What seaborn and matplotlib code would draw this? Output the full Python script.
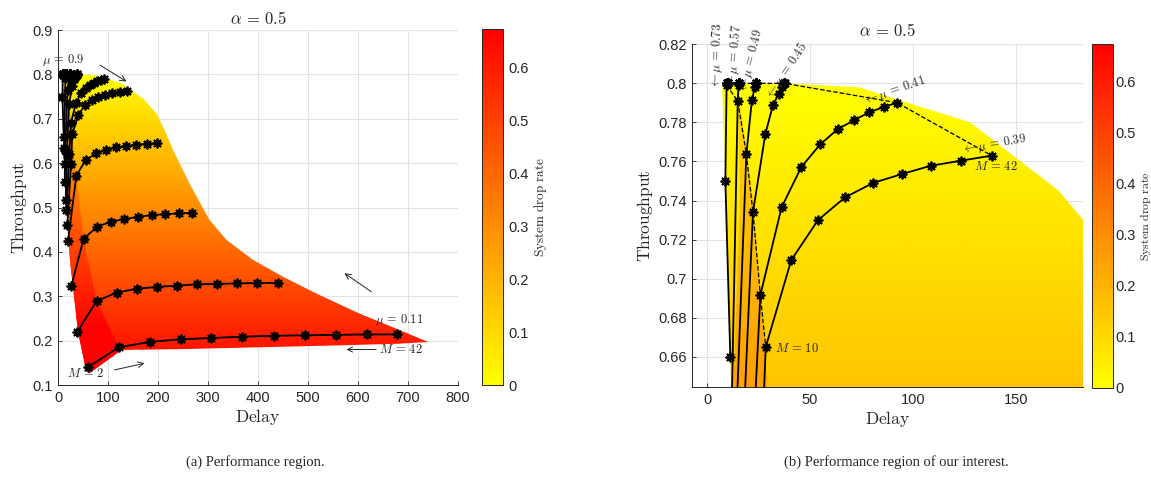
import matplotlib
matplotlib.use('Agg')
import matplotlib.pyplot as plt
import matplotlib.colors as mcolors
import matplotlib.cm as cm
from matplotlib.patches import Polygon
import numpy as np
import pandas as pd
import seaborn as sns

# curves of constant mu, points for M = 2, 6, 10, ...
curve_mu = [0.11, 0.23, 0.31, 0.35, 0.39, 0.41, 0.45, 0.49, 0.57, 0.73]
curve_delay = [
    [60, 121, 183, 245, 307, 369, 433, 495, 557, 619, 678],
    [38, 77, 117, 157, 198, 238, 278, 319, 359, 399, 440],
    [26.8, 51.3, 78.7, 106, 132.7, 160, 187, 214.7, 241.3, 268.7],
    [20, 36.7, 55.3, 76.7, 96.7, 116.7, 136.7, 156.7, 178, 198],
    [18.5, 26.0, 28.5, 40.9, 53.9, 67.0, 80.6, 94.8, 108.6, 123.3, 138.2],
    [16.7, 22.5, 25.9, 36.2, 45.8, 55.0, 63.4, 71.5, 78.8, 85.8, 92.2],
    [15.4, 17.5, 22.3, 28.3, 32.0, 34.8, 36.4, 37.1, 37.4, 37.6, 37.7],
    [13.4, 14.3, 19.1, 21.8, 23.2, 23.6, 23.8, 23.9, 24.0, 24.0, 24.0],
    [13.4, 12.0, 14.9, 15.3, 15.4, 15.5, 15.5, 15.6, 15.6, 15.6, 15.6],
    [11.3, 8.9, 9.5, 9.7, 9.8, 9.9, 10.0, 10.0, 10.1, 10.1, 10.1],
]
curve_thr = [
    [0.140, 0.185, 0.197, 0.203, 0.206, 0.209, 0.211, 0.212, 0.213, 0.214, 0.214],
    [0.219, 0.289, 0.308, 0.317, 0.321, 0.324, 0.327, 0.328, 0.329, 0.330, 0.330],
    [0.324, 0.430, 0.457, 0.468, 0.474, 0.479, 0.483, 0.485, 0.487, 0.488],
    [0.425, 0.572, 0.607, 0.622, 0.6295, 0.6355, 0.639, 0.6415, 0.644, 0.6445],
    [0.460, 0.598, 0.665, 0.7095, 0.730, 0.7416, 0.749, 0.7536, 0.7578, 0.7604, 0.763],
    [0.494, 0.620, 0.6916, 0.7365, 0.7572, 0.7688, 0.7765, 0.7812, 0.7852, 0.7879, 0.7901],
    [0.517, 0.620, 0.734, 0.774, 0.7888, 0.7946, 0.798, 0.7995, 0.800, 0.800, 0.800],
    [0.558, 0.630, 0.7638, 0.7915, 0.798, 0.800, 0.800, 0.800, 0.800, 0.800, 0.800],
    [0.598, 0.635, 0.791, 0.799, 0.800, 0.800, 0.800, 0.800, 0.800, 0.800, 0.800],
    [0.660, 0.750, 0.799, 0.800, 0.800, 0.800, 0.800, 0.800, 0.800, 0.800, 0.800],
]
zoom_mu = [0.73, 0.57, 0.49, 0.45, 0.41, 0.39]

# outline of the performance surface and of its folded strip
surf_delay = [7.3, 37.2, 73.6, 127.8, 170.7, 197, 215, 230, 263, 303, 337, 390, 450,
              517, 603, 683, 740, 680, 550, 400, 250, 127, 62, 53, 40, 25, 21, 17, 13,
              11.7, 10.5, 8.9]
surf_thr = [0.80, 0.80, 0.798, 0.780, 0.745, 0.712, 0.67, 0.63, 0.554, 0.472, 0.427,
            0.382, 0.344, 0.306, 0.261, 0.224, 0.197, 0.193, 0.189, 0.185, 0.181, 0.179,
            0.126, 0.15, 0.22, 0.37, 0.42, 0.50, 0.60, 0.6446, 0.696, 0.750]
fold_delay = [14.9, 22.5, 29.3, 36.7, 51, 77, 117, 127, 62, 53, 40, 25, 21, 17, 13, 12.9, 16]
fold_thr = [0.797, 0.74, 0.6446, 0.572, 0.43, 0.29, 0.195, 0.179, 0.126, 0.15, 0.22,
            0.37, 0.42, 0.50, 0.60, 0.6446, 0.74]
offered_load = 0.8      # drop rate = offered load - throughput
fold_extra = 0.1
drop_max = 0.673

rows = []
for mu, ds, ts in zip(curve_mu, curve_delay, curve_thr):
    for k, (d, t) in enumerate(zip(ds, ts)):
        rows.append({'mu': mu, 'M': 2 + 4 * k, 'delay': d, 'thr': t})
df = pd.DataFrame(rows)

sns.set_style('whitegrid')
plt.rcParams['font.family'] = ['Liberation Sans', 'DejaVu Sans']
plt.rcParams['mathtext.fontset'] = 'cm'
ink = '#262626'

cmap = plt.get_cmap('autumn_r')
norm = mcolors.Normalize(0, drop_max)


def paint(ax, xs, ys, shift, xlim, ylim):
    poly = Polygon(np.column_stack([xs, ys]), closed=True, transform=ax.transData,
                   facecolor='none', edgecolor='none')
    ax.add_patch(poly)
    yy = np.linspace(ylim[0], ylim[1], 400)
    field = np.tile((offered_load - yy + shift)[:, None], (1, 2))
    im = ax.imshow(field, extent=[xlim[0], xlim[1], ylim[0], ylim[1]], origin='lower',
                   aspect='auto', cmap=cmap, norm=norm, zorder=1, interpolation='bilinear')
    im.set_clip_path(poly)


def style(ax, xlim, ylim, xticks, yticks):
    ax.set_xlim(xlim)
    ax.set_ylim(ylim)
    ax.set_xticks(xticks)
    ax.set_yticks(yticks)
    ax.grid(True, color='#e3e3e3', lw=0.8)
    ax.set_axisbelow(True)
    for s in ['top', 'right']:
        ax.spines[s].set_visible(False)
    for s in ['left', 'bottom']:
        ax.spines[s].set_color(ink)
        ax.spines[s].set_linewidth(0.7)
    ax.tick_params(direction='in', length=3, width=0.6, colors=ink, labelsize=10.5,
                   bottom=True, left=True, pad=4)
    ax.set_xlabel(r'$\mathrm{Delay}$', fontsize=12.5, color=ink, labelpad=2)
    ax.set_ylabel(r'$\mathrm{Throughput}$', fontsize=12.5, color=ink, labelpad=2)


def colorbar(fig, rect, label_size, label_pad, tick_pad):
    cax = fig.add_axes(rect)
    cb = fig.colorbar(cm.ScalarMappable(norm=norm, cmap=cmap), cax=cax)
    cb.set_ticks([0, 0.1, 0.2, 0.3, 0.4, 0.5, 0.6])
    cb.set_ticklabels(['0', '0.1', '0.2', '0.3', '0.4', '0.5', '0.6'])
    cb.outline.set_edgecolor(ink)
    cb.outline.set_linewidth(0.7)
    cax.tick_params(direction='in', length=3, width=0.6, colors=ink, labelsize=10.5,
                    pad=tick_pad)
    cb.set_label(r'$\mathrm{System\ drop\ rate}$', fontsize=label_size, color=ink,
                 labelpad=label_pad)


star = dict(marker=(8, 2, 0), markersize=7, markeredgecolor='k', markeredgewidth=1.3,
            color='k', lw=1.3)
label_size = 9

fig = plt.figure(figsize=(11.51, 4.82), dpi=100)

# (a) whole region
ax1 = fig.add_axes([0.0504, 0.2012, 0.3475, 0.7365])
xl1, yl1 = (0, 800), (0.1, 0.9)
paint(ax1, surf_delay, surf_thr, 0, xl1, yl1)
paint(ax1, fold_delay, fold_thr, fold_extra, xl1, yl1)
sns.lineplot(data=df, x='delay', y='thr', units='mu', estimator=None, sort=False,
             legend=False, ax=ax1, zorder=3, **star)
style(ax1, xl1, yl1, range(0, 801, 100), np.arange(0.1, 0.91, 0.1))
ax1.set_yticklabels(['0.1', '0.2', '0.3', '0.4', '0.5', '0.6', '0.7', '0.8', '0.9'])
ax1.set_title(r'$\alpha \,=\, 0.5$', fontsize=12, color=ink, pad=4)
arrow = dict(arrowstyle='->', lw=0.7, color=ink, shrinkA=0, shrinkB=0)
ax1.text(11, 0.832, r'$\mu \,=\, 0.9$', fontsize=label_size, ha='center', va='center', color=ink)
ax1.annotate('', xy=(137, 0.784), xytext=(84, 0.821), arrowprops=arrow)
ax1.text(683, 0.247, r'$\mu \,=\, 0.11$', fontsize=label_size, ha='center', va='center', color=ink)
ax1.annotate('', xy=(573, 0.352), xytext=(627, 0.310), arrowprops=arrow)
ax1.annotate(r'$M \,=\, 42$', xy=(577, 0.180), xytext=(643, 0.180), fontsize=label_size,
             ha='left', va='center', color=ink, arrowprops=arrow)
ax1.text(55, 0.126, r'$M \,=\, 2$', fontsize=label_size, ha='center', va='center', color=ink)
ax1.annotate('', xy=(173, 0.149), xytext=(113, 0.134), arrowprops=arrow)
colorbar(fig, [0.4188, 0.2012, 0.01825, 0.7386], 9.5, 3, 3.5)

# (b) zoom on the region of interest
ax2 = fig.add_axes([0.6012, 0.1971, 0.3397, 0.711])
xl2, yl2 = (-7.3, 182.5), (0.6445, 0.82)
paint(ax2, surf_delay, surf_thr, 0, xl2, yl2)
paint(ax2, fold_delay, fold_thr, fold_extra, xl2, yl2)
sub = df[df['mu'].isin(zoom_mu)]
sns.lineplot(data=sub, x='delay', y='thr', units='mu', estimator=None, sort=False,
             legend=False, ax=ax2, zorder=3, **star)
# dashed links: the M = 42 ends and the M = 10 points, from high to low mu
ends = sub[sub['M'] == sub.groupby('mu')['M'].transform('max')]
ends = ends.sort_values('mu', ascending=False, kind='stable')
m10 = sub[sub['M'] == 10].sort_values('mu', ascending=False, kind='stable')
for part in [ends, m10]:
    sns.lineplot(data=part, x='delay', y='thr', estimator=None, sort=False, legend=False,
                 ax=ax2, color='k', lw=0.9, linestyle='--', zorder=2.5)
style(ax2, xl2, yl2, [0, 50, 100, 150], np.arange(0.66, 0.821, 0.02))
ax2.set_yticklabels(['0.66', '0.68', '0.7', '0.72', '0.74', '0.76', '0.78', '0.8', '0.82'])
ax2.set_title(r'$\alpha \,=\, 0.5$', fontsize=12, color=ink, pad=6)
mu_label_pos = [(4.2, 0.7970, 88), (12.1, 0.7966, 85), (17.8, 0.7950, 76),
                (29.4, 0.7923, 56), (76.0, 0.7906, 19), (123.8, 0.7658, 10)]
for mu, (x, y, rot) in zip(zoom_mu, mu_label_pos):
    ax2.text(x, y, r'$\leftarrow \mu \,=\, %s$' % mu, fontsize=label_size, rotation=rot,
             rotation_mode='anchor', ha='left', va='center', color=ink, zorder=4)
ax2.text(140, 0.7573, r'$M \,=\, 42$', fontsize=label_size, ha='center', va='center', color=ink)
ax2.text(33.2, 0.6643, r'$M \,=\, 10$', fontsize=label_size, ha='left', va='center', color=ink)
colorbar(fig, [0.9487, 0.1956, 0.01825, 0.7124], 8.5, 1, 2)

fig.text(0.2215, 0.033, '(a) Performance region.', fontsize=10.5, ha='center',
         family='Liberation Serif')
fig.text(0.7785, 0.033, '(b) Performance region of our interest.', fontsize=10.5,
         ha='center', family='Liberation Serif')

fig.savefig('out.png', dpi=100)
